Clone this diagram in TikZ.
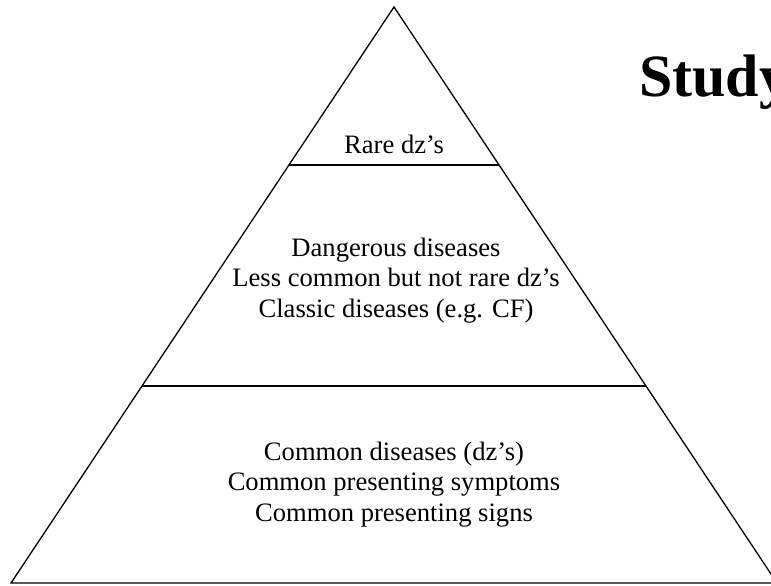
\documentclass[tikz,border=0pt]{standalone}
\usepackage{fontspec}
\setmainfont{Liberation Serif}
\usetikzlibrary{positioning,calc}
\tikzset{
    layer/.style={
           align=center,
           font=\fontsize{26.6}{30.4}\selectfont,
           inner sep=0pt,
           anchor=base,
           },
    edge/.style={
           draw=black,
           line width=1.3pt,
           },
    heading/.style={
           font=\fontsize{60}{66}\selectfont\bfseries,
           inner sep=0pt,
           anchor=base west,
           },
}
\begin{document}
\begin{tikzpicture}
[
x=1pt,y=-1pt
]
 \useasboundingbox (0,0) rectangle (771,586);
 \clip (0,0) rectangle (771,586);

 % corners of the pyramid
 \coordinate (APEX) at (394,7);
 \coordinate (BASEL) at (11,583);
 \coordinate (BASER) at (777,583);

 % dividing lines
 \coordinate (TOPL) at ($(APEX)!0.2743!(BASEL)$);
 \coordinate (TOPR) at ($(APEX)!0.2743!(BASER)$);
 \coordinate (MIDL) at ($(APEX)!0.6580!(BASEL)$);
 \coordinate (MIDR) at ($(APEX)!0.6580!(BASER)$);

 \draw[edge] (APEX) -- (BASEL) -- (BASER) -- cycle;
 \draw[edge] (TOPL) -- (TOPR);
 \draw[edge] (MIDL) -- (MIDR);

 % texts (base = baseline of the last line)
 \node[layer] (RARE) at (394,153) {Rare dz’s};
 \node[layer] (DANGER) at (396,317)
 {Dangerous diseases\\Less common but not rare dz’s\\Classic diseases (e.g. CF)};
 \node[layer] (COMMON) at (394,521)
 {Common diseases (dz’s)\\Common presenting symptoms\\Common presenting signs};

 \node[heading] (TITLE) at (639,96) {Study};
\end{tikzpicture}
\end{document}
